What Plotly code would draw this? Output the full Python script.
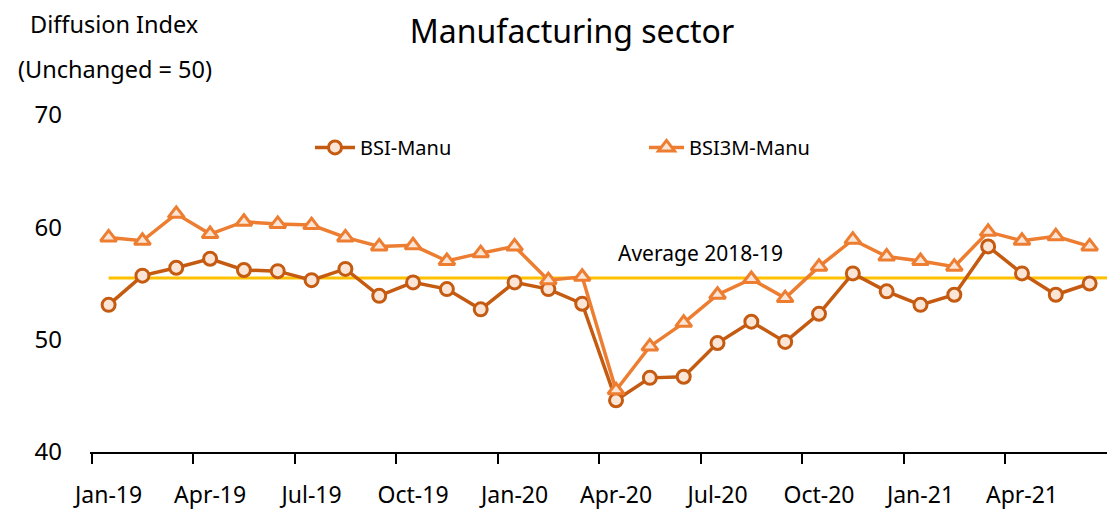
import plotly.graph_objects as go

months = ["Jan-19", "Feb-19", "Mar-19", "Apr-19", "May-19", "Jun-19", "Jul-19", "Aug-19", "Sep-19",
          "Oct-19", "Nov-19", "Dec-19", "Jan-20", "Feb-20", "Mar-20", "Apr-20", "May-20", "Jun-20",
          "Jul-20", "Aug-20", "Sep-20", "Oct-20", "Nov-20", "Dec-20", "Jan-21", "Feb-21", "Mar-21",
          "Apr-21", "May-21", "Jun-21"]

bsi_manu = [53.1, 55.7, 56.4, 57.2, 56.2, 56.1, 55.3, 56.3, 53.9, 55.1, 54.5, 52.7, 55.1, 54.5, 53.2,
            44.6, 46.6, 46.7, 49.7, 51.6, 49.8, 52.3, 55.9, 54.3, 53.1, 54.0, 58.3, 55.9, 54.0, 55.0]

bsi3m_manu = [59.1, 58.8, 61.2, 59.4, 60.5, 60.3, 60.2, 59.1, 58.3, 58.4, 57.0, 57.7, 58.3, 55.3, 55.6,
              45.5, 49.4, 51.5, 54.0, 55.4, 53.7, 56.5, 58.9, 57.4, 57.0, 56.5, 59.6, 58.8, 59.2, 58.3]

average_2018_19 = 55.5

label_months = months[::3]

x_idx = list(range(len(months)))
label_idx = x_idx[::3]

FONT = "Noto Sans"
C_BSI = "#C55A11"
C_3M = "#ED7D31"
FILL = "#FBE5D6"
AVG_C = "#FFC000"

# page has an 8px body margin: figure is drawn 8px right/down of the window corner
W, H = 1107, 502
PL, PT, PB = 82, 106.5, 58
PW = W - PL
PH = H - PT - PB

fig = go.Figure()

fig.add_trace(go.Scatter(
    x=x_idx, y=[average_2018_19] * len(months), mode="lines",
    line=dict(color=AVG_C, width=3), showlegend=False, hoverinfo="skip"))

fig.add_trace(go.Scatter(
    x=x_idx, y=bsi_manu, mode="lines+markers", name="BSI-Manu",
    line=dict(color=C_BSI, width=3.5),
    marker=dict(symbol="circle", size=13, color=FILL, line=dict(color=C_BSI, width=3)),
    legend="legend"))

fig.add_trace(go.Scatter(
    x=x_idx, y=bsi3m_manu, mode="lines+markers", name="BSI3M-Manu",
    line=dict(color=C_3M, width=3.5),
    marker=dict(symbol="triangle-up", size=14, color=FILL, line=dict(color=C_3M, width=3)),
    legend="legend2"))

fig.add_shape(type="line", xref="x", yref="y", x0=x_idx[-1], x1=29.75,
              y0=average_2018_19, y1=average_2018_19, line=dict(color=AVG_C, width=3), layer="below")

fig.add_annotation(x=17.5, y=57.7, xref="x", yref="y", text="Average 2018-19", showarrow=False,
                   xanchor="center", yanchor="middle",
                   font=dict(family=FONT, size=21, color="black"))

fig.add_annotation(x=(114 - 90) / PW, y=(444 - 15) / PH, xref="paper", yref="paper",
                   xanchor="center", yanchor="middle",
                   text="Diffusion Index", showarrow=False, font=dict(family=FONT, size=23.5, color="black"))
fig.add_annotation(x=(115 - 90) / PW, y=(444 - 60) / PH, xref="paper", yref="paper",
                   xanchor="center", yanchor="middle",
                   text="(Unchanged = 50)", showarrow=False, font=dict(family=FONT, size=23.5, color="black"))

fig.update_layout(
    width=W, height=H,
    margin=dict(l=PL, r=0, t=PT, b=PB, autoexpand=False),
    paper_bgcolor="white", plot_bgcolor="white",
    font=dict(family=FONT, size=20, color="black"),
    title=dict(text="Manufacturing sector", xref="container", yref="container",
               x=(572 - 8) / W, y=1 - (32 - 8) / H, xanchor="center", yanchor="middle",
               font=dict(family=FONT, size=32, color="black")),
    xaxis=dict(
        range=[-0.55, 29.75], tickmode="array", tickvals=label_idx, ticktext=label_months,
        ticks="", showgrid=False, zeroline=False,
        showline=True, linecolor="black", linewidth=2,
        tickfont=dict(family=FONT, size=23, color="black"),
        ticklabelstandoff=21,
        minor=dict(tickmode="array", tickvals=[i - 0.5 for i in label_idx], ticks="outside",
                   ticklen=10, tickwidth=2, tickcolor="black", showgrid=False),
    ),
    yaxis=dict(
        range=[40, 70], dtick=10, showgrid=False, zeroline=False, showline=False, ticks="",
        tickfont=dict(family=FONT, size=24, color="black"), ticklabelstandoff=27,
    ),
    legend=dict(orientation="h", x=(310 - 90) / PW, y=(444 - 139) / PH, xanchor="left",
                yanchor="middle", itemwidth=40, font=dict(family=FONT, size=20, color="black"),
                bgcolor="rgba(0,0,0,0)"),
    legend2=dict(orientation="h", x=(644 - 90) / PW, y=(444 - 139) / PH, xanchor="left",
                 yanchor="middle", itemwidth=35, font=dict(family=FONT, size=20, color="black"),
                 bgcolor="rgba(0,0,0,0)"),
    showlegend=True,
)

fig.write_html("out.html")
